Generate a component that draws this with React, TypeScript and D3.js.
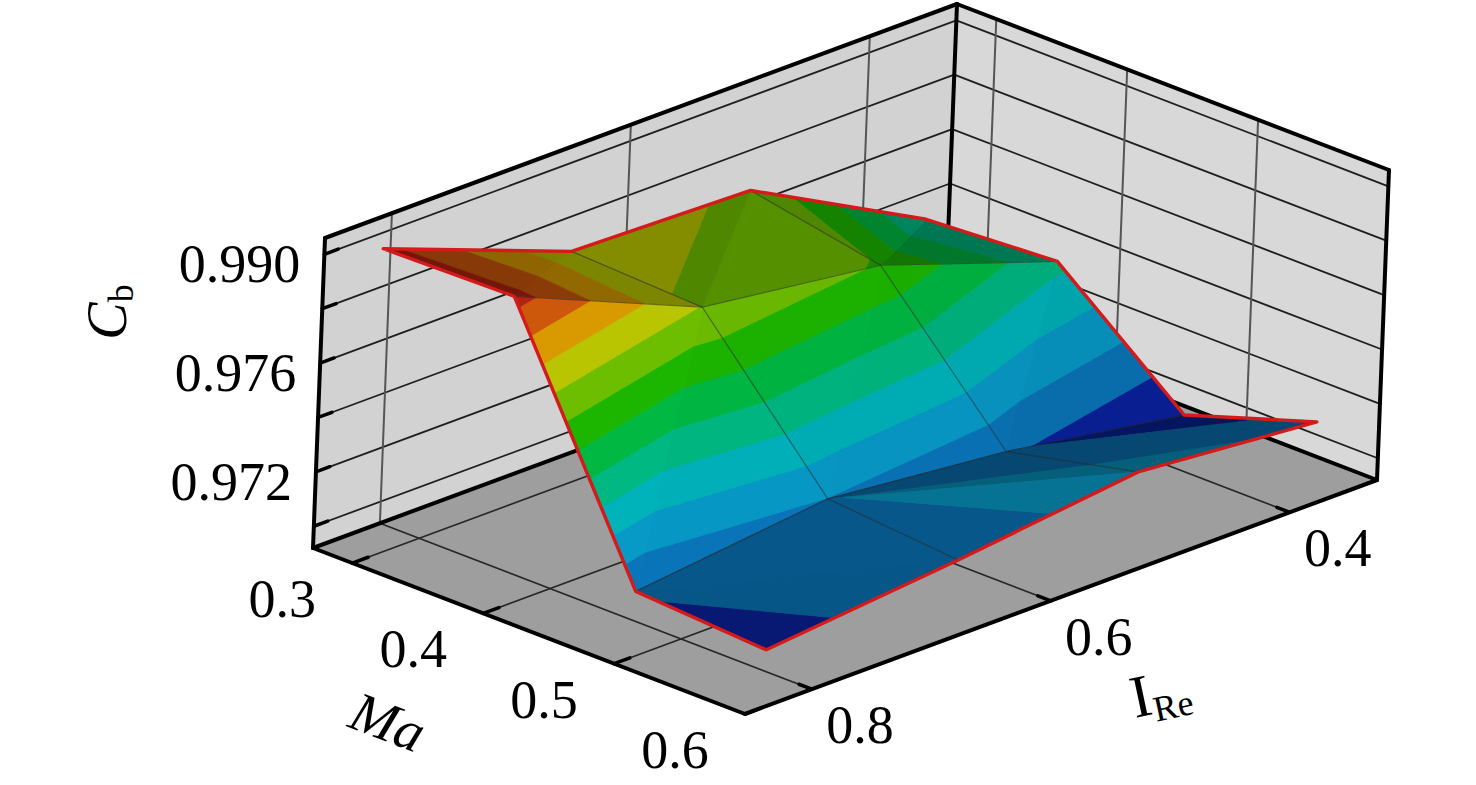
import { useRef, useEffect } from "react";
import * as d3 from "d3";

// grid of the surface
const maValues = [0.3, 0.4, 0.5, 0.6];
const ireValues = [0.84, 0.68, 0.53, 0.38];

// Cb along ireValues, one row per Ma
const cbMa03 = [0.9805, 0.9778, 0.9776, 0.9741];
const cbMa04 = [0.9806, 0.9776, 0.9767, 0.9744];
const cbMa05 = [0.9716, 0.9724, 0.9717, 0.9706];
const cbMa06 = [0.9713, 0.972, 0.9728, 0.9722];

// axes
const maTicks = [0.3, 0.4, 0.5, 0.6];
const maLabels = ["0.3", "0.4", "0.5", "0.6"];
const ireTicks = [0.8, 0.6, 0.4];
const ireLabels = ["0.8", "0.6", "0.4"];
const cbGridTicks = [0.97, 0.972, 0.974, 0.976, 0.978, 0.98];
const cbLabelTicks = [0.98, 0.976, 0.972];
const cbLabels = ["0.990", "0.976", "0.972"];

// contour bands, low -> high
const bandColors = [
  "#0a24a6",
  "#0a7cc4",
  "#08a2d2",
  "#00bcc4",
  "#00c288",
  "#00c246",
  "#1ec000",
  "#74c800",
  "#c2d000",
  "#e4a200",
  "#d85c0c",
  "#bc2410",
];
const contourLevels = d3.range(11).map((k) => 0.97155 + k * 0.000871);

const FONT = "'Liberation Serif', 'Times New Roman', serif";

// oblique view of the box
const ORIGIN = [313, 548];
const EU = [432, 166];
const EV = [632, -234];
const EW = [12, -310];

const uScale = d3.scaleLinear().domain([0.27, 0.6]).range([0, 1]);
const vScale = d3.scaleLinear().domain([0.856, 0.327]).range([0, 1]);
const wScale = d3.scaleLinear().domain([0.9692, 0.9806]).range([0, 1]);

const P = (u, v, w) => [
  ORIGIN[0] + u * EU[0] + v * EV[0] + w * EW[0],
  ORIGIN[1] + u * EU[1] + v * EV[1] + w * EW[1],
];

const lerp = (a, b, t) => ({
  u: a.u + (b.u - a.u) * t,
  v: a.v + (b.v - a.v) * t,
  w: a.w + (b.w - a.w) * t,
  z: a.z + (b.z - a.z) * t,
});

// keep the part of a polygon above (or below) a level of z
const clip = (poly, level, above) => {
  const out = [];
  for (let i = 0; i < poly.length; i++) {
    const a = poly[i];
    const b = poly[(i + 1) % poly.length];
    const ina = above ? a.z >= level : a.z <= level;
    const inb = above ? b.z >= level : b.z <= level;
    if (ina) out.push(a);
    if (ina !== inb) out.push(lerp(a, b, (level - a.z) / (b.z - a.z)));
  }
  return out;
};

const App = () => {
  const svgRef = useRef(null);

  useEffect(() => {
    const svg = d3.select(svgRef.current);
    svg.selectAll("*").remove();

    const line = d3.line();
    const g = svg.append("g");

    const poly = (pts, fill) =>
      g.append("path").attr("d", line(pts) + "Z").attr("fill", fill);
    const seg = (p, q, color, width) =>
      g
        .append("line")
        .attr("x1", p[0])
        .attr("y1", p[1])
        .attr("x2", q[0])
        .attr("y2", q[1])
        .attr("stroke", color)
        .attr("stroke-width", width)
        .attr("stroke-linecap", "round");

    // floor and walls
    poly([P(0, 0, 0), P(1, 0, 0), P(1, 1, 0), P(0, 1, 0)], "#9e9e9e");
    poly([P(0, 0, 0), P(0, 1, 0), P(0, 1, 1), P(0, 0, 1)], "#d2d2d2");
    poly([P(0, 1, 0), P(1, 1, 0), P(1, 1, 1), P(0, 1, 1)], "#d8d8d8");

    // grid lines
    cbGridTicks.forEach((z) => {
      const w = wScale(z);
      seg(P(0, 0, w), P(0, 1, w), "#1e1e1e", 1.8);
      seg(P(0, 1, w), P(1, 1, w), "#1e1e1e", 1.8);
    });
    ireTicks.forEach((t) => {
      const v = vScale(t);
      seg(P(0, v, 0), P(0, v, 1), "#555", 2);
      seg(P(0, v, 0), P(1, v, 0), "#262626", 1.6);
    });
    maTicks.forEach((t) => {
      const u = uScale(t);
      seg(P(u, 1, 0), P(u, 1, 1), "#555", 2);
      seg(P(u, 0, 0), P(u, 1, 0), "#262626", 1.6);
    });

    // back edges of the box
    const edge = "#000";
    const ew = 4;
    seg(P(0, 0, 0), P(0, 1, 0), edge, ew);
    seg(P(0, 1, 0), P(1, 1, 0), edge, ew);
    seg(P(0, 1, 0), P(0, 1, 1), edge, ew);
    seg(P(0, 0, 1), P(0, 1, 1), edge, ew);
    seg(P(0, 1, 1), P(1, 1, 1), edge, ew);
    seg(P(0, 0, 0), P(0, 0, 1), edge, ew);
    seg(P(1, 1, 0), P(1, 1, 1), edge, ew);

    // surface nodes
    const cbRows = [cbMa03, cbMa04, cbMa05, cbMa06];
    const nodes = maValues.map((ma, i) =>
      ireValues.map((ire, j) => ({
        u: uScale(ma),
        v: vScale(ire),
        z: cbRows[i][j],
        w: wScale(cbRows[i][j]),
      }))
    );

    const tris = [];
    for (let i = 0; i < maValues.length - 1; i++) {
      for (let j = 0; j < ireValues.length - 1; j++) {
        const a = nodes[i][j];
        const b = nodes[i][j + 1];
        const c = nodes[i + 1][j + 1];
        const d = nodes[i + 1][j];
        if (i < 2) {
          tris.push([a, b, d], [b, c, d]);
        } else {
          tris.push([a, b, c], [a, c, d]);
        }
      }
    }

    const depth = (t) => d3.mean(t, (p) => p.u - p.v + 0.5 * p.w);
    tris.sort((a, b) => depth(a) - depth(b));

    const L = [0.95, -0.2, 0.2];
    const lLen = Math.hypot(L[0], L[1], L[2]);
    const to3 = (p) => [p.u * 460, p.v * 680, p.w * 310];

    const surf = svg.append("g");
    tris.forEach((t) => {
      const [p0, p1, p2] = t.map(to3);
      const a = [p1[0] - p0[0], p1[1] - p0[1], p1[2] - p0[2]];
      const b = [p2[0] - p0[0], p2[1] - p0[1], p2[2] - p0[2]];
      let n = [
        a[1] * b[2] - a[2] * b[1],
        a[2] * b[0] - a[0] * b[2],
        a[0] * b[1] - a[1] * b[0],
      ];
      if (n[2] < 0) n = n.map((x) => -x);
      const nLen = Math.hypot(n[0], n[1], n[2]);
      const diff = Math.max(
        0,
        (n[0] * L[0] + n[1] * L[1] + n[2] * L[2]) / (nLen * lLen)
      );
      const shade = 0.58 + 0.42 * diff;

      bandColors.forEach((col, k) => {
        let pg = t;
        if (k > 0) pg = clip(pg, contourLevels[k - 1], true);
        if (k < bandColors.length - 1) pg = clip(pg, contourLevels[k], false);
        if (pg.length < 3) return;
        const c = d3.rgb(col);
        const fill = d3.rgb(c.r * shade, c.g * shade, c.b * shade).formatHex();
        surf
          .append("path")
          .attr("d", line(pg.map((p) => P(p.u, p.v, p.w))) + "Z")
          .attr("fill", fill)
          .attr("stroke", fill)
          .attr("stroke-width", 0.8)
          .attr("stroke-linejoin", "round");
      });
    });

    // mesh lines inside the surface
    const meshColor = "rgba(40,40,40,0.55)";
    for (let i = 1; i < maValues.length - 1; i++) {
      surf
        .append("path")
        .attr("d", line(nodes[i].map((p) => P(p.u, p.v, p.w))))
        .attr("fill", "none")
        .attr("stroke", meshColor)
        .attr("stroke-width", 1.2);
    }
    for (let j = 1; j < ireValues.length - 1; j++) {
      surf
        .append("path")
        .attr("d", line(nodes.map((r) => P(r[j].u, r[j].v, r[j].w))))
        .attr("fill", "none")
        .attr("stroke", meshColor)
        .attr("stroke-width", 1.2);
    }

    // red outline
    const last = maValues.length - 1;
    const lastJ = ireValues.length - 1;
    const ring = [
      ...nodes[0],
      ...nodes.slice(1).map((r) => r[lastJ]),
      ...nodes[last].slice(0, lastJ).reverse(),
      ...nodes
        .slice(1, last)
        .map((r) => r[0])
        .reverse(),
    ];
    surf
      .append("path")
      .attr("d", line(ring.map((p) => P(p.u, p.v, p.w))) + "Z")
      .attr("fill", "none")
      .attr("stroke", "#d41a1a")
      .attr("stroke-width", 3.4)
      .attr("stroke-linejoin", "round");

    // front axes
    const front = svg.append("g");
    const fseg = (p, q, width) =>
      front
        .append("line")
        .attr("x1", p[0])
        .attr("y1", p[1])
        .attr("x2", q[0])
        .attr("y2", q[1])
        .attr("stroke", "#000")
        .attr("stroke-width", width)
        .attr("stroke-linecap", "round");
    fseg(P(0, 0, 0), P(1, 0, 0), 4);
    fseg(P(1, 0, 0), P(1, 1, 0), 4);

    maTicks.forEach((t, i) => {
      const u = uScale(t);
      fseg(P(u, 0, 0), P(u, 0.025, 0), 3.5);
      const [x, y] = P(u, 0, 0);
      front
        .append("text")
        .attr("x", x - 70)
        .attr("y", y + 36)
        .attr("text-anchor", "middle")
        .attr("dominant-baseline", "central")
        .style("font-family", FONT)
        .style("font-size", "54px")
        .text(maLabels[i]);
    });

    ireTicks.forEach((t, i) => {
      const v = vScale(t);
      fseg(P(1, v, 0), P(0.97, v, 0), 3.5);
      const [x, y] = P(1, v, 0);
      front
        .append("text")
        .attr("x", x + 48)
        .attr("y", y + 36)
        .attr("text-anchor", "middle")
        .attr("dominant-baseline", "central")
        .style("font-family", FONT)
        .style("font-size", "54px")
        .text(ireLabels[i]);
    });

    cbGridTicks.forEach((z) => {
      const w = wScale(z);
      fseg(P(0, 0, w), P(0, 0.022, w), 3.5);
    });
    cbLabelTicks.forEach((z, i) => {
      const [x, y] = P(0, 0, wScale(z));
      front
        .append("text")
        .attr("x", x - 24)
        .attr("y", y + 10)
        .attr("text-anchor", "end")
        .attr("dominant-baseline", "central")
        .style("font-family", FONT)
        .style("font-size", "54px")
        .text(cbLabels[i]);
    });

    // axis titles
    front
      .append("text")
      .attr("transform", "translate(388,722) rotate(21)")
      .attr("text-anchor", "middle")
      .attr("dominant-baseline", "central")
      .style("font-family", FONT)
      .style("font-size", "56px")
      .style("font-style", "italic")
      .text("Ma");

    const ire = front
      .append("text")
      .attr("transform", "translate(1135,718) rotate(-12)")
      .style("font-family", FONT)
      .style("font-size", "60px");
    ire.append("tspan").text("I");
    ire
      .append("tspan")
      .attr("dy", 8)
      .style("font-size", "36px")
      .text("Re");

    const cb = front
      .append("text")
      .attr("transform", "translate(126,312) rotate(-90)")
      .attr("text-anchor", "middle")
      .style("font-family", FONT)
      .style("font-size", "56px");
    cb.append("tspan").style("font-style", "italic").text("C");
    cb.append("tspan")
      .attr("dy", 7)
      .style("font-size", "36px")
      .text("b");
  }, []);

  return (
    <svg
      ref={svgRef}
      width={1476}
      height={785}
      style={{ position: "absolute", left: 0, top: 0, background: "#fff" }}
    ></svg>
  );
};

export default App;
